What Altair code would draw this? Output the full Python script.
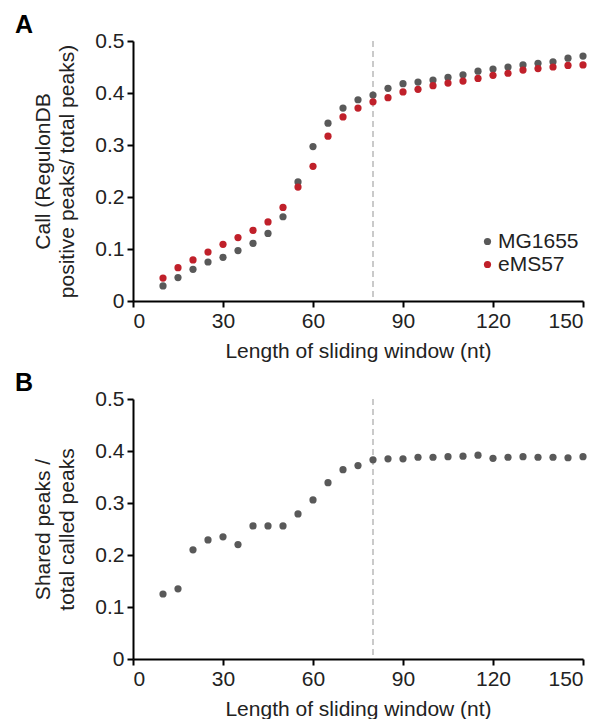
import altair as alt
import pandas as pd

window = [10, 15, 20, 25, 30, 35, 40, 45, 50, 55, 60, 65, 70, 75, 80, 85, 90, 95,
          100, 105, 110, 115, 120, 125, 130, 135, 140, 145, 150]
mg1655 = [0.029, 0.045, 0.061, 0.075, 0.084, 0.097, 0.111, 0.130, 0.162, 0.229,
          0.297, 0.342, 0.371, 0.387, 0.396, 0.409, 0.418, 0.421, 0.425, 0.430,
          0.435, 0.442, 0.446, 0.450, 0.454, 0.457, 0.460, 0.467, 0.471]
ems57 = [0.044, 0.064, 0.079, 0.094, 0.109, 0.122, 0.136, 0.152, 0.180, 0.219,
         0.259, 0.317, 0.354, 0.371, 0.383, 0.391, 0.402, 0.407, 0.414, 0.419,
         0.423, 0.428, 0.434, 0.438, 0.444, 0.447, 0.450, 0.453, 0.454]
shared = [0.125, 0.135, 0.210, 0.229, 0.235, 0.220, 0.256, 0.256, 0.256, 0.279,
          0.306, 0.339, 0.364, 0.372, 0.383, 0.385, 0.385, 0.388, 0.388, 0.389,
          0.390, 0.392, 0.386, 0.388, 0.389, 0.388, 0.388, 0.387, 0.389]
strains = ["MG1655", "eMS57"]
colors = ["#595959", "#c0202a"]
x_ticks = [0, 30, 60, 90, 120, 150]
y_ticks = [0, 0.1, 0.2, 0.3, 0.4, 0.5]
cutoff = [80]

FONT = "Liberation Sans"
FS = 21
W, H = 450, 260

dfA = pd.DataFrame({
    "window": window * 2,
    "value": mg1655 + ems57,
    "strain": [strains[0]] * len(window) + [strains[1]] * len(window),
})
dfB = pd.DataFrame({"window": window, "value": shared})
dfV = pd.DataFrame({"x": cutoff})

x_enc = alt.X("window:Q", scale=alt.Scale(domain=[0, 150], nice=False),
              axis=alt.Axis(values=x_ticks, title="Length of sliding window (nt)"))

def y_enc(title):
    return alt.Y("value:Q", scale=alt.Scale(domain=[0, 0.5], nice=False),
                 axis=alt.Axis(values=y_ticks, title=title,
                               labelExpr="datum.value == 0 ? '0' : format(datum.value, '.1f')"))

vline = alt.Chart(dfV).mark_rule(color="#bdbdbd", strokeDash=[6, 4], strokeWidth=1.6).encode(
    x=alt.X("x:Q", scale=alt.Scale(domain=[0, 150], nice=False))
)

pointsA = alt.Chart(dfA).mark_circle(size=52, opacity=1).encode(
    x=x_enc,
    y=y_enc(["Call (RegulonDB", "positive peaks/ total peaks)"]),
    color=alt.Color("strain:N", sort=strains,
                    scale=alt.Scale(domain=strains, range=colors),
                    legend=alt.Legend(title=None, orient="none", legendX=344, legendY=190,
                                      symbolType="circle", symbolSize=52,
                                      labelFontSize=FS, labelFont=FONT, labelColor="#222",
                                      rowPadding=1, labelOffset=0)),
)

pointsB = alt.Chart(dfB).mark_circle(size=52, opacity=1, color=colors[0]).encode(
    x=x_enc,
    y=y_enc(["Shared peaks /", "total called peaks"]),
)

def letter(t):
    return alt.Title(t, anchor="start", frame="group", fontSize=25, fontWeight="bold",
                     font=FONT, dx=-118, offset=-8, color="#000")

panelA = alt.layer(vline, pointsA).properties(width=W, height=H, title=letter("A"))
panelB = alt.layer(vline, pointsB).properties(width=W, height=H, title=letter("B"))

chart = alt.vconcat(panelA, panelB, spacing=10).properties(
    padding={"left": 7, "top": 5, "right": 0, "bottom": 0}
).configure_view(stroke=None).configure_axis(
    grid=False, domainColor="#000", domainWidth=2, tickColor="#000", tickWidth=2,
    tickSize=6, labelFont=FONT, labelFontSize=FS, labelColor="#222", titleFont=FONT,
    titleFontSize=FS, titleColor="#222", titleFontWeight="normal", labelPadding=3
).configure_axisY(titlePadding=17, titleLineHeight=24).configure_axisX(titlePadding=9)

chart.save("out.html", embed_options={"renderer": "svg", "actions": False})
